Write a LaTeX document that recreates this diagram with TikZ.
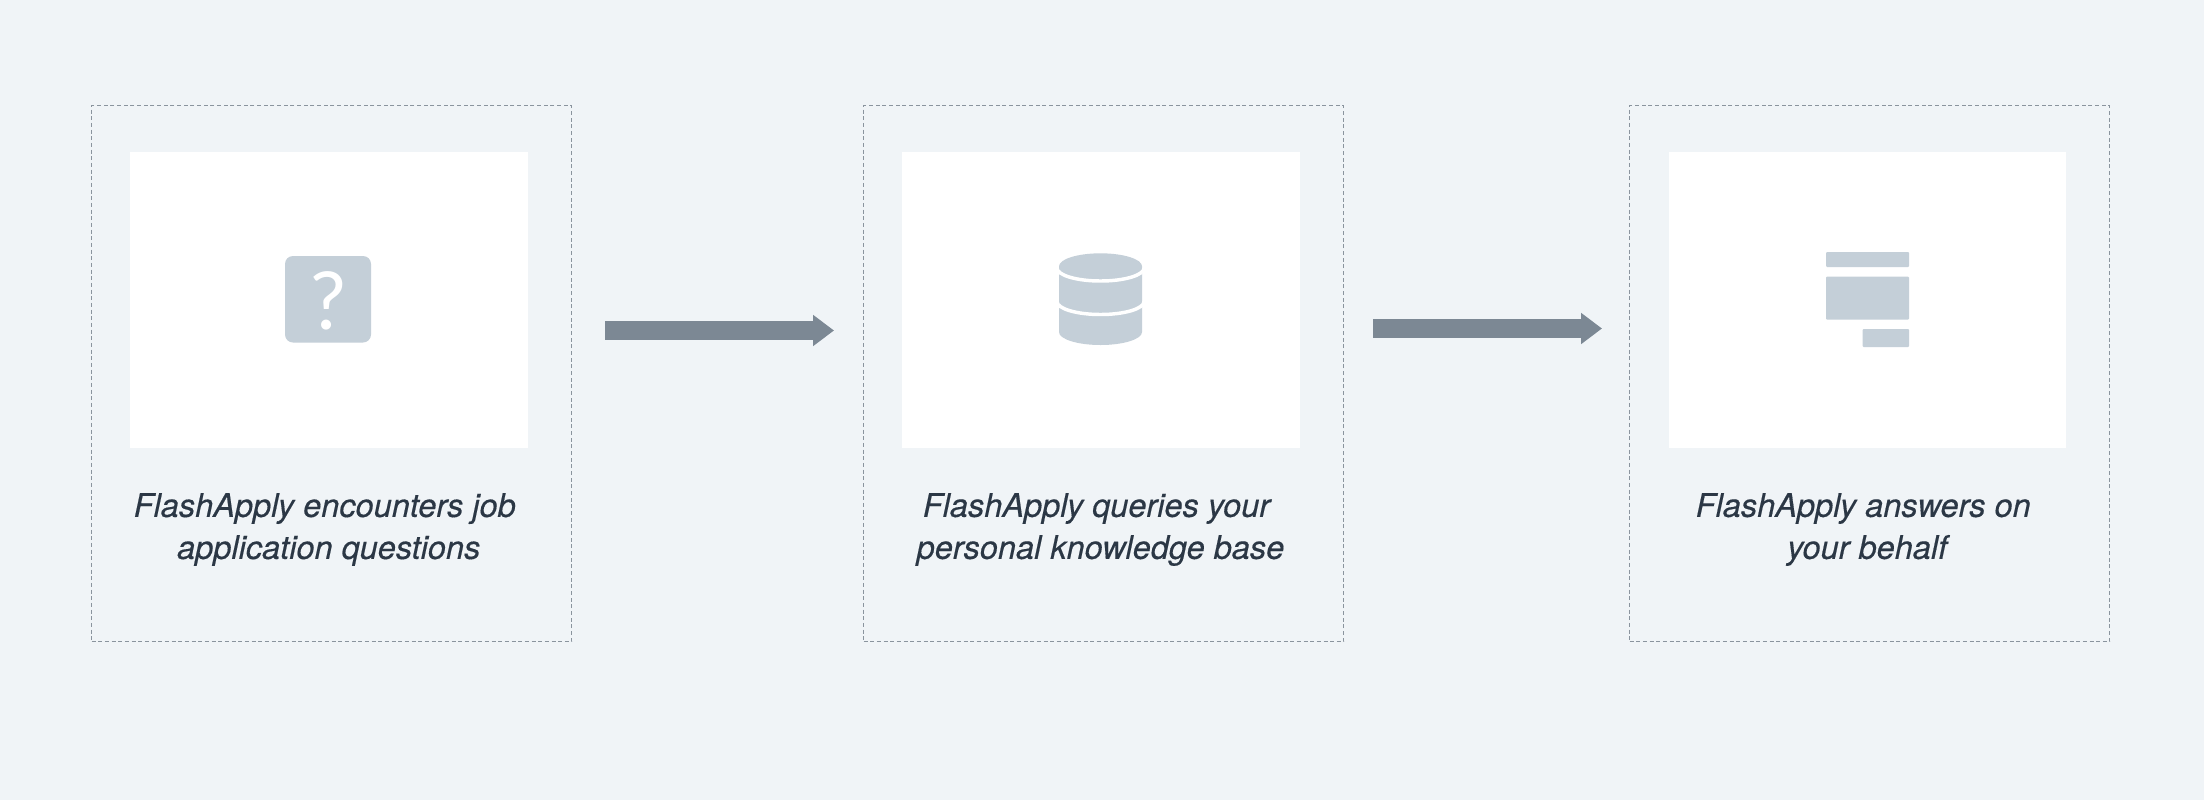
\documentclass[tikz,border=0pt]{standalone}
\usepackage{fontspec}
\usetikzlibrary{arrows.meta}
\setmainfont{TeX Gyre Heros}[ItalicFeatures={FakeBold=0.4}]
\newfontfamily\markfont{Lato}
\definecolor{pagebg}{HTML}{F0F4F7}
\definecolor{iconfill}{HTML}{C4CFD8}
\definecolor{arrowfill}{HTML}{7C8894}
\definecolor{cardline}{HTML}{8A949E}
\definecolor{captionink}{HTML}{2B3745}
\tikzset{every picture/.style={line width=0.75pt}}
\tikzset{
  cardbox/.style={draw=cardline,line width=0.8pt,dash pattern={on 3pt off 2pt},minimum width=360pt,minimum height=402pt,inner sep=0pt,outer sep=0pt},
  panelbox/.style={fill=white,minimum width=298.25pt,minimum height=221.5pt,inner sep=0pt,outer sep=0pt},
  captiontext/.style={text=captionink,align=center,inner sep=0pt,font=\fontsize{24.4}{31.5}\selectfont\itshape},
  flowarrow/.style={draw=arrowfill,line width=14.25pt,-{Triangle[length=15.75pt,width=22.5pt]}},
  iconshape/.style={fill=iconfill,rounded corners=0.75pt},
  cutline/.style={draw=white,line width=2.6pt}
}

\begin{document}
\begin{tikzpicture}[x=0.75pt,y=0.75pt,yscale=-1,xscale=1]
\useasboundingbox (0,0) rectangle (2204,800);
%Shape: Rectangle
\fill [pagebg] (0,0) rectangle (2204,800);

%Shape: Rectangle
\node (carda) [cardbox] at (331.5,373.5) {};
%Shape: Rectangle
\node (panela) [panelbox] at (328.75,300) {};
%Shape: Rectangle
\node (cardb) [cardbox] at (1103.5,373.5) {};
%Shape: Rectangle
\node (panelb) [panelbox] at (1100.8,300) {};
%Shape: Rectangle
\node (cardc) [cardbox] at (1869.5,373.5) {};
%Shape: Rectangle
\node (panelc) [panelbox] at (1867.5,300) {};

%Shape: Rounded Square
\fill [iconfill,rounded corners=6pt] (285,256) rectangle (371,342.5);
% Text Node
\node (questionmark) [text=white,font=\markfont\fontsize{60}{60}\selectfont] at (328,300.5) {?};

%Shape: Cylinder
\fill [iconfill] (1059,266.3) arc[start angle=180,end angle=360,x radius=41.5,y radius=13] -- (1142,332) arc[start angle=0,end angle=180,x radius=41.5,y radius=13] -- cycle;
%Curve Lines
\draw [cutline] (1057,268) arc[start angle=180,end angle=0,x radius=43.5,y radius=13];
%Curve Lines
\draw [cutline] (1057,301.5) arc[start angle=180,end angle=0,x radius=43.5,y radius=13];

%Shape: Rectangle
\fill [iconshape] (1826,252) rectangle (1909,267);
%Shape: Rectangle
\fill [iconshape] (1826,276.7) rectangle (1909,319.7);
%Shape: Rectangle
\fill [iconshape] (1862.7,329) rectangle (1909,347);

\coordinate (arrowastart) at (605,330.5);
\coordinate (arrowaend) at (834,330.5);
\coordinate (arrowbstart) at (1373,328.5);
\coordinate (arrowbend) at (1602,328.5);
%Straight Lines
\draw [flowarrow] (arrowastart) -- (arrowaend);
%Straight Lines
\draw [flowarrow] (arrowbstart) -- (arrowbend);

% Text Node
\node (captiona) [captiontext] at (328.75,529.5) {FlashApply encounters job\hspace*{6pt}\\application questions};
% Text Node
\node (captionb) [captiontext] at (1100.5,529.5) {FlashApply queries your\hspace*{6pt}\\personal knowledge base};
% Text Node
\node (captionc) [captiontext] at (1867.25,529.5) {FlashApply answers on\hspace*{6pt}\\your behalf};
\end{tikzpicture}
\end{document}
